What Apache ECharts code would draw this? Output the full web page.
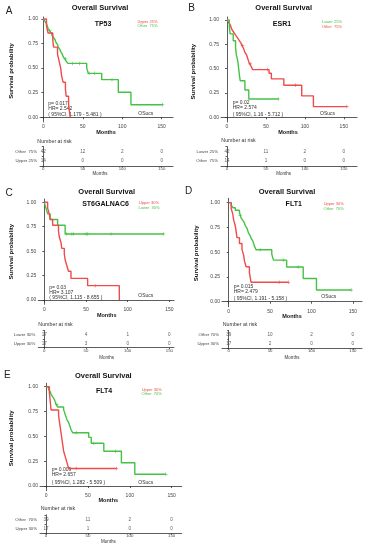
<!DOCTYPE html>
<html>
<head>
<meta charset="utf-8">
<script src="https://cdn.jsdelivr.net/npm/echarts@6/dist/echarts.min.js"></script>
<style>
html,body{margin:0;padding:0;background:#fff}
#main{width:365px;height:550px}
</style>
</head>
<body>
<div id="main"></div>
<script>
// ticks shared by every panel
var monthTicks = [0, 50, 100, 150];
var probTicks = [0, 0.25, 0.5, 0.75, 1];

// A : TP53
var aUpper = [[0,1],[4,0.929],[6,0.857],[12,0.786],[13,0.714],[18,0.643],[20,0.571],[22,0.5],[23,0.429],[25,0.357],[28,0.286],[29,0.214],[32,0.143],[33,0.071],[34,0]];
var aOther = [[0,1],[2,0.976],[4,0.952],[5,0.929],[6,0.905],[8,0.881],[10,0.857],[11,0.833],[13,0.81],[15,0.786],[16,0.762],[18,0.738],[19,0.714],[21,0.69],[22,0.667],[24,0.643],[25,0.619],[27,0.595],[29,0.571],[31,0.548],[55,0.5],[57,0.447],[74,0.383],[95,0.255],[111,0.128],[151,0.128]];
var aOtherCens = [[8,0.881],[28,0.595],[37,0.548],[46,0.548],[58,0.447],[65,0.447],[87,0.383],[151,0.128]];
var aRows = ["Other  75%", "Upper 25%"];
var aRiskTop = [42, 12, 2, 0];
var aRiskBottom = [14, 0, 0, 0];

// B : ESR1
var bLower = [[0,1],[3,0.929],[4,0.857],[8,0.786],[11,0.714],[12,0.643],[14,0.571],[15,0.5],[16,0.429],[17,0.375],[23,0.281],[28,0.188],[66,0.188]];
var bLowerCens = [[66,0.188]];
var bOther = [[0,1],[2,0.976],[4,0.952],[5,0.929],[6,0.905],[8,0.881],[10,0.857],[12,0.833],[14,0.81],[16,0.786],[18,0.762],[19,0.738],[21,0.714],[22,0.69],[23,0.667],[25,0.643],[26,0.619],[27,0.595],[28,0.571],[29,0.548],[31,0.524],[33,0.49],[54,0.452],[57,0.395],[73,0.33],[96,0.22],[111,0.11],[154,0.11]];
var bOtherCens = [[20,0.738],[30,0.548],[52,0.49],[88,0.33],[154,0.11]];
var bRows = ["Lower 25%", "Other  75%"];
var bRiskTop = [42, 11, 2, 0];
var bRiskBottom = [14, 1, 0, 0];

// C : ST6GALNAC6
var cUpper = [[0,1],[4,0.941],[6,0.882],[7,0.824],[10,0.765],[17,0.706],[18,0.647],[20,0.588],[21,0.529],[24,0.471],[25,0.412],[27,0.353],[29,0.294],[32,0.221],[52,0.147],[90,0]];
var cUpperCens = [[61,0.147]];
var cLower = [[0,1],[2,0.941],[4,0.882],[7,0.824],[16,0.765],[25,0.676],[143,0.676]];
var cLowerCens = [[27,0.676],[33,0.676],[35,0.676],[50,0.676],[52,0.676],[80,0.676],[143,0.676]];
var cRows = ["Lower 30%", "Upper 30%"];
var cRiskTop = [17, 4, 1, 0];
var cRiskBottom = [17, 3, 0, 0];

// D : FLT1
var dUpper = [[0,1],[3,0.941],[5,0.882],[6,0.824],[8,0.765],[9,0.706],[10,0.647],[13,0.588],[16,0.529],[18,0.471],[19,0.412],[21,0.353],[25,0.294],[27,0.196],[72,0.196]];
var dUpperCens = [[61,0.196],[72,0.196]];
var dOther = [[0,1],[3,0.974],[5,0.949],[8,0.923],[13,0.897],[14,0.872],[15,0.846],[17,0.821],[19,0.795],[20,0.769],[22,0.744],[23,0.718],[24,0.692],[26,0.667],[27,0.641],[29,0.615],[30,0.59],[31,0.564],[33,0.525],[52,0.48],[54,0.42],[70,0.35],[90,0.235],[106,0.118],[148,0.118]];
var dOtherCens = [[14,0.872],[38,0.525],[66,0.42],[84,0.35],[148,0.118]];
var dRows = ["Other 70%", "Upper 30%"];
var dRiskTop = [39, 10, 2, 0];
var dRiskBottom = [17, 2, 0, 0];

// E : FLT4
var eUpper = [[0,1],[4,0.941],[6,0.765],[15,0.706],[16,0.647],[17,0.588],[18,0.529],[19,0.471],[20,0.412],[21,0.353],[23,0.294],[25,0.235],[27,0.176],[84,0.176]];
var eUpperCens = [[36,0.176],[84,0.176]];
var eOther = [[0,1],[3,0.974],[5,0.949],[6,0.923],[8,0.897],[10,0.872],[11,0.846],[12,0.821],[14,0.795],[21,0.769],[22,0.744],[23,0.718],[24,0.692],[25,0.667],[27,0.641],[28,0.615],[29,0.59],[30,0.564],[32,0.536],[51,0.49],[54,0.43],[69,0.35],[90,0.235],[106,0.118],[143,0.118]];
var eOtherCens = [[13,0.821],[36,0.536],[57,0.43],[83,0.35],[143,0.118]];
var eRows = ["Other  70%", "Upper 30%"];
var eRiskTop = [39, 11, 2, 0];
var eRiskBottom = [17, 1, 0, 0];

var RED = "#f04a4a", GREEN = "#45c245";
var FONT = '"Liberation Sans", Arial, sans-serif';
var PLUS = "path://M4,0H6V4H10V6H6V10H4V6H0V4H4Z";

var grids = [], xAxes = [], yAxes = [], series = [], graphics = [];

// KM curve: level holds until the next event time, then drops
function toSteps(pts) {
  var out = [pts[0]];
  for (var i = 1; i < pts.length; i++) {
    out.push([pts[i][0], pts[i - 1][1]]);
    out.push(pts[i]);
  }
  return out;
}

function txt(x, y, s, font, color, align, rot) {
  graphics.push({
    type: "text", x: x, y: y, rotation: rot || 0, silent: true,
    style: { text: s, font: font + " " + FONT, fill: color || "#222",
      align: align || "center", verticalAlign: "middle",
      textAlign: align || "center", textVerticalAlign: "middle" }
  });
}

function axisLook(fs, margin) {
  return {
    axisLine: { show: true, lineStyle: { color: "#333", width: 0.8 } },
    axisTick: { show: true, length: 2, lineStyle: { color: "#333", width: 0.8 } },
    axisLabel: { fontSize: fs, color: "#444", margin: margin, fontFamily: FONT },
    splitLine: { show: false }
  };
}

function addPanel(p) {
  var g = grids.length;
  grids.push({ left: p.km[0], top: p.km[1], width: p.km[2], height: p.km[3] });
  var xa = axisLook(5, 2.5);
  xa.axisTick.customValues = monthTicks;
  xa.axisLabel.customValues = monthTicks;
  xAxes.push(Object.assign({ type: "value", gridIndex: g, min: p.xr[0], max: p.xr[1] }, xa));
  var ya = axisLook(5, 2);
  ya.axisTick.customValues = probTicks;
  ya.axisLabel.customValues = probTicks;
  ya.axisLabel.formatter = function (v) { return v.toFixed(2); };
  yAxes.push(Object.assign({ type: "value", gridIndex: g, min: p.yr[0], max: p.yr[1] }, ya));
  p.curves.forEach(function (c) {
    series.push({ type: "line", xAxisIndex: g, yAxisIndex: g, data: toSteps(c.data),
      showSymbol: false, silent: true, animation: false,
      lineStyle: { color: c.color, width: 1.4 } });
    if (c.cens.length) {
      series.push({ type: "scatter", xAxisIndex: g, yAxisIndex: g, data: c.cens,
        symbol: PLUS, symbolSize: 3.5, silent: true, animation: false,
        itemStyle: { color: c.color } });
    }
  });

  // number at risk table
  var t = grids.length;
  grids.push({ left: p.tb[0], top: p.tb[1], width: p.tb[2], height: p.tb[3] });
  var tx = axisLook(4.3, 1);
  tx.axisTick.customValues = monthTicks;
  tx.axisLabel.customValues = monthTicks;
  tx.axisTick.length = 1.5;
  xAxes.push(Object.assign({ type: "value", gridIndex: t, min: p.xr[0], max: p.xr[1] }, tx));
  var ty = axisLook(4.3, 3);
  ty.axisTick.length = 1.5;
  yAxes.push(Object.assign({ type: "category", gridIndex: t, data: p.rows, inverse: true }, ty));
  var cells = [];
  monthTicks.forEach(function (m, i) {
    cells.push([m, 0, p.risk[0][i]]);
    cells.push([m, 1, p.risk[1][i]]);
  });
  series.push({ type: "scatter", xAxisIndex: t, yAxisIndex: t, data: cells, symbolSize: 0,
    silent: true, animation: false,
    label: { show: true, position: "inside", fontSize: 4.6, color: "#333", fontFamily: FONT,
      formatter: function (q) { return String(q.value[2]); } } });

  // texts
  var T = p.txt;
  txt(T.letter[0], T.letter[1], p.letter, "10px", "#222");
  txt(T.title[0], T.title[1], "Overall Survival", "bold 7.5px", "#111");
  txt(T.ylab[0], T.ylab[1], "Survival probability", "bold 6px", "#111", "center", Math.PI / 2);
  txt(T.gene[0], T.gene[1], p.gene, "bold 7px", "#111");
  txt(T.leg[0], T.leg[1], p.legend[0][0], "4px", p.legend[0][1]);
  txt(T.leg[0], T.leg[2], p.legend[1][0], "4px", p.legend[1][1]);
  txt(T.pv[0], T.pv[1], p.stats[0], "5px", "#333", "left");
  txt(T.pv[0], T.pv[2], p.stats[1], "5px", "#333", "left");
  txt(T.pv[0], T.pv[3], p.stats[2], "5px", "#333", "left");
  txt(T.os[0], T.os[1], "OSucs", "5px", "#333", "left");
  txt(T.xlab[0], T.xlab[1], "Months", "bold 5.5px", "#111");
  txt(T.nar[0], T.nar[1], "Number at risk", "5.3px", "#333", "left");
  txt(T.tlab[0], T.tlab[1], "Months", "4.5px", "#333");
}

addPanel({
  letter: "A", gene: "TP53",
  km: [40, 17, 133, 105], xr: [-4.2, 164.3], yr: [-0.048, 1.02],
  tb: [40, 146.5, 133, 19.5],
  curves: [{ data: aOther, cens: aOtherCens, color: GREEN }, { data: aUpper, cens: [], color: RED }],
  rows: aRows, risk: [aRiskTop, aRiskBottom],
  legend: [["Upper 25%", RED], ["Other  75%", GREEN]],
  stats: ["p= 0.017", "HR= 2.542", "( 95%CI, 1.179 - 5.481 )"],
  txt: { letter: [9, 11], title: [100, 8], ylab: [11.7, 71], gene: [103, 24], leg: [147.5, 21.7, 26],
    pv: [48.3, 103.3, 108.3, 114.3], os: [138.3, 113.3], xlab: [106, 132.3], nar: [37.3, 141.7], tlab: [100, 174] }
});

addPanel({
  letter: "B", gene: "ESR1",
  km: [221, 17, 136, 105], xr: [-7.7, 167], yr: [-0.048, 1.03],
  tb: [221, 146.5, 136, 19.5],
  curves: [{ data: bOther, cens: bOtherCens, color: RED }, { data: bLower, cens: bLowerCens, color: GREEN }],
  rows: bRows, risk: [bRiskTop, bRiskBottom],
  legend: [["Lower 25%", GREEN], ["Other  75%", RED]],
  stats: ["p= 0.02", "HR= 2.574", "( 95%CI, 1.16 - 5.712 )"],
  txt: { letter: [191.5, 8], title: [283.7, 7.5], ylab: [193.7, 71.7], gene: [282, 24], leg: [332, 22.3, 26.7],
    pv: [232.7, 102.7, 107.7, 115], os: [320, 113.3], xlab: [288, 132.7], nar: [221.3, 141], tlab: [283.7, 174] }
});

addPanel({
  letter: "C", gene: "ST6GALNAC6",
  km: [38.3, 199, 135.7, 105.3], xr: [-7.2, 155.6], yr: [-0.044, 1.034],
  tb: [38.3, 330.5, 135.7, 17.2],
  curves: [{ data: cLower, cens: cLowerCens, color: GREEN }, { data: cUpper, cens: cUpperCens, color: RED }],
  rows: cRows, risk: [cRiskTop, cRiskBottom],
  legend: [["Upper 30%", RED], ["Lower  30%", GREEN]],
  stats: ["p= 0.03", "HR= 3.107", "( 95%CI, 1.115 - 8.655 )"],
  txt: { letter: [9, 193], title: [106.7, 191.7], ylab: [11.7, 251.7], gene: [105.5, 204.3], leg: [149, 203.3, 208.3],
    pv: [49.3, 287.7, 292.7, 297.3], os: [138.3, 295.7], xlab: [106.7, 315.7], nar: [38.3, 325], tlab: [106.7, 357.7] }
});

addPanel({
  letter: "D", gene: "FLT1",
  km: [222, 198.3, 140, 108.4], xr: [-8.1, 161], yr: [-0.05, 1.044],
  tb: [222, 330.5, 140, 17.8],
  curves: [{ data: dOther, cens: dOtherCens, color: GREEN }, { data: dUpper, cens: dUpperCens, color: RED }],
  rows: dRows, risk: [dRiskTop, dRiskBottom],
  legend: [["Upper 30%", RED], ["Other  70%", GREEN]],
  stats: ["p= 0.015", "HR= 2.479", "( 95%CI, 1.191 - 5.158 )"],
  txt: { letter: [188.7, 191.7], title: [287, 191.7], ylab: [196, 253.3], gene: [293.7, 204], leg: [333.7, 204.3, 209.3],
    pv: [233.7, 286.7, 291.7, 298.3], os: [321.3, 296.7], xlab: [292, 316], nar: [222.7, 325], tlab: [292, 357.7] }
});

addPanel({
  letter: "E", gene: "FLT4",
  km: [40, 383.3, 141.7, 107.4], xr: [-7.2, 162], yr: [-0.047, 1.034],
  tb: [40, 514.8, 141.7, 18.5],
  curves: [{ data: eOther, cens: eOtherCens, color: GREEN }, { data: eUpper, cens: eUpperCens, color: RED }],
  rows: eRows, risk: [eRiskTop, eRiskBottom],
  legend: [["Upper 30%", RED], ["Other  70%", GREEN]],
  stats: ["p= 0.009", "HR= 2.657", "( 95%CI, 1.282 - 5.509 )"],
  txt: { letter: [7.3, 375], title: [103.3, 376], ylab: [11.7, 438.3], gene: [104, 391], leg: [151.7, 390, 394.3],
    pv: [51.7, 470, 475, 482.7], os: [138.3, 482.3], xlab: [108.3, 500], nar: [40.7, 509], tlab: [108.3, 542] }
});

var myChart = echarts.init(document.getElementById("main"), null, { renderer: "canvas" });
var option = {
  backgroundColor: "#fff",
  animation: false,
  grid: grids,
  xAxis: xAxes,
  yAxis: yAxes,
  series: series,
  graphic: graphics
};
myChart.setOption(option);
</script>
</body>
</html>
